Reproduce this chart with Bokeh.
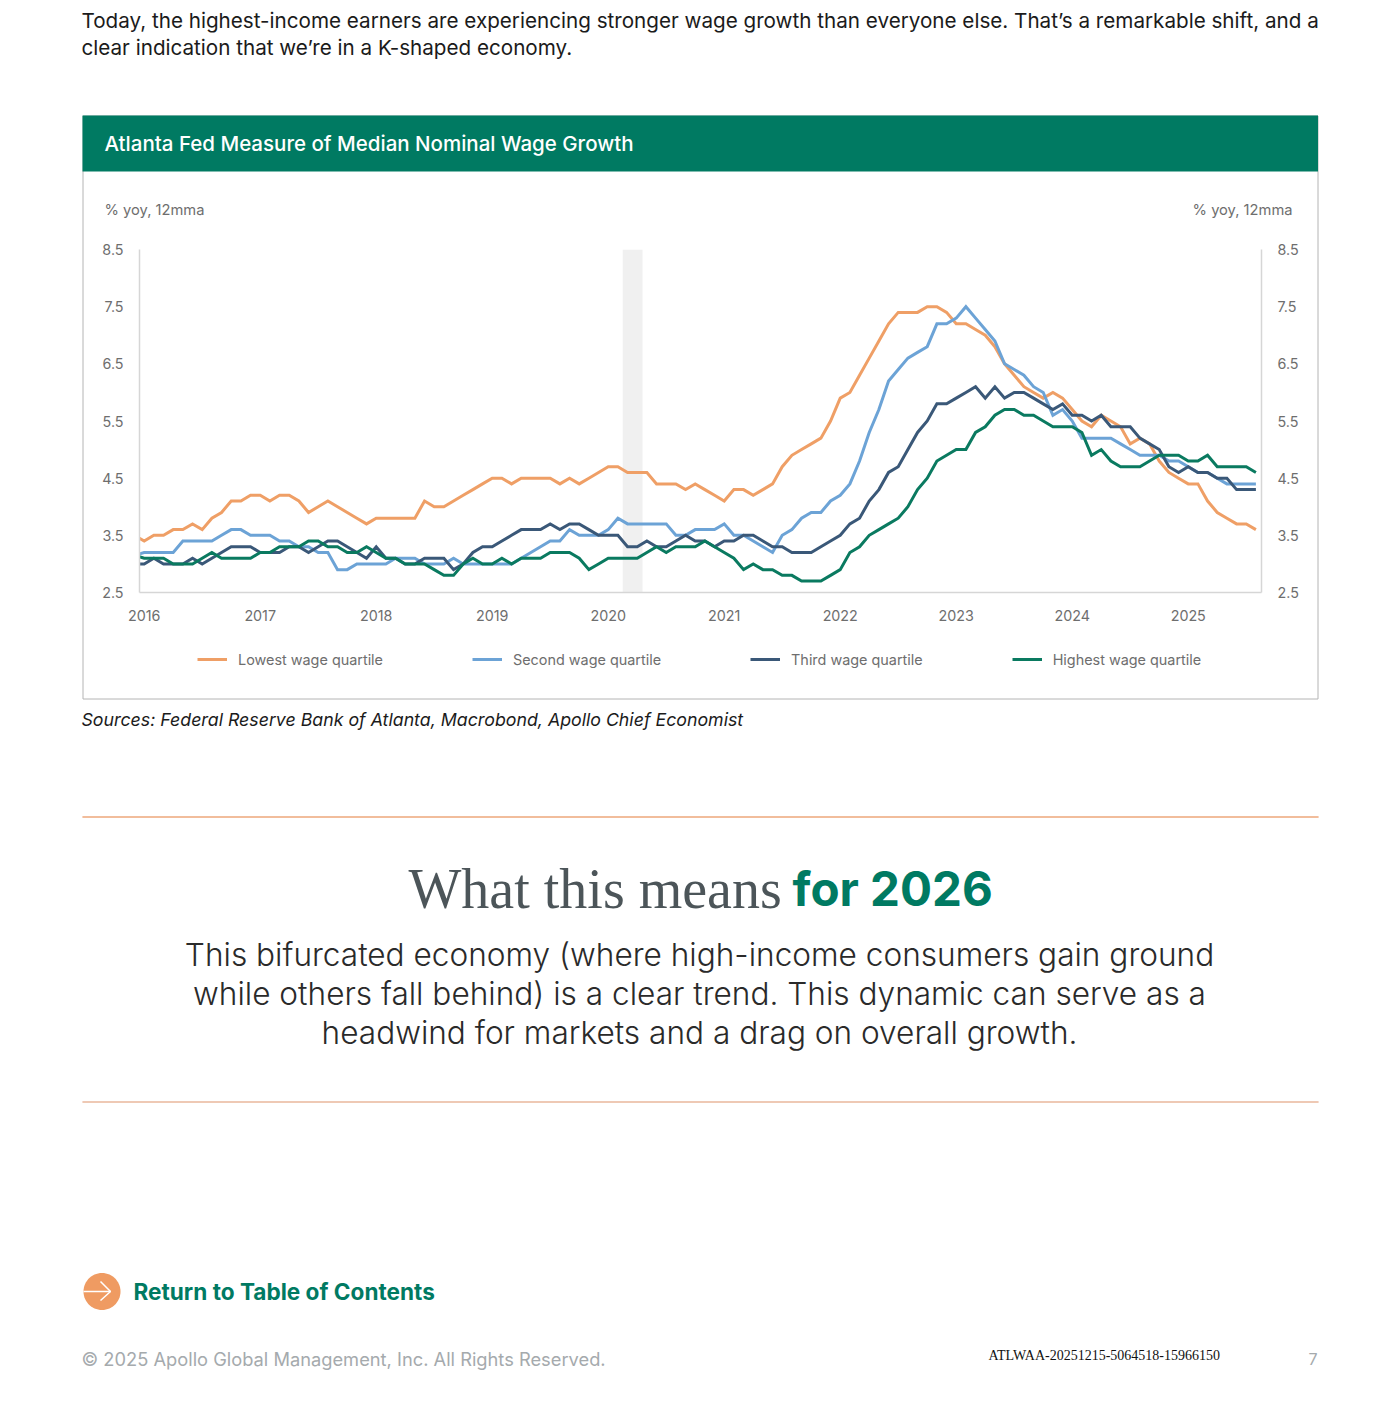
from bokeh.plotting import figure
from bokeh.models import Range1d, Label, BoxAnnotation, LinearAxis, FixedTicker, Legend, LegendItem
from bokeh.embed import file_html
from bokeh.resources import INLINE
import math

W, H = 1400, 1401
FL, FR, FT, FB = 139, 1261, 249, 592

year_labels = ["2016","2017","2018","2019","2020","2021","2022","2023","2024","2025"]
y_ticks = [2.5,3.5,4.5,5.5,6.5,7.5,8.5]
months = list(range(-1,116))
recession = (49.5, 51.55)
lowest = [3.5,3.4,3.5,3.5,3.6,3.6,3.7,3.6,3.8,3.9,4.1,4.1,4.2,4.2,4.1,4.2,4.2,4.1,3.9,4.0,4.1,4.0,3.9,3.8,3.7,3.8,3.8,3.8,3.8,3.8,4.1,4.0,4.0,4.1,4.2,4.3,4.4,4.5,4.5,4.4,4.5,4.5,4.5,4.5,4.4,4.5,4.4,4.5,4.6,4.7,4.7,4.6,4.6,4.6,4.4,4.4,4.4,4.3,4.4,4.3,4.2,4.1,4.3,4.3,4.2,4.3,4.4,4.7,4.9,5.0,5.1,5.2,5.5,5.9,6.0,6.3,6.6,6.9,7.2,7.4,7.4,7.4,7.5,7.5,7.4,7.2,7.2,7.1,7.0,6.8,6.5,6.3,6.1,6.0,5.9,6.0,5.9,5.7,5.5,5.4,5.6,5.5,5.4,5.1,5.2,5.1,4.8,4.6,4.5,4.4,4.4,4.1,3.9,3.8,3.7,3.7,3.6]
second = [3.15,3.2,3.2,3.2,3.2,3.4,3.4,3.4,3.4,3.5,3.6,3.6,3.5,3.5,3.5,3.4,3.4,3.3,3.3,3.2,3.2,2.9,2.9,3.0,3.0,3.0,3.0,3.1,3.1,3.1,3.0,3.0,3.0,3.1,3.0,3.0,3.0,3.0,3.0,3.0,3.1,3.2,3.3,3.4,3.4,3.6,3.5,3.5,3.5,3.6,3.8,3.7,3.7,3.7,3.7,3.7,3.5,3.5,3.6,3.6,3.6,3.7,3.5,3.5,3.4,3.3,3.2,3.5,3.6,3.8,3.9,3.9,4.1,4.2,4.4,4.8,5.3,5.7,6.2,6.4,6.6,6.7,6.8,7.2,7.2,7.3,7.5,7.3,7.1,6.9,6.5,6.4,6.3,6.1,6.0,5.6,5.7,5.5,5.2,5.2,5.2,5.2,5.1,5.0,4.9,4.9,4.9,4.8,4.8,4.7,4.6,4.6,4.5,4.4,4.4,4.4,4.4]
third = [3.0,3.0,3.1,3.0,3.0,3.0,3.1,3.0,3.1,3.2,3.3,3.3,3.3,3.2,3.2,3.2,3.3,3.3,3.2,3.3,3.4,3.4,3.3,3.2,3.1,3.3,3.1,3.1,3.0,3.0,3.1,3.1,3.1,2.9,3.0,3.2,3.3,3.3,3.4,3.5,3.6,3.6,3.6,3.7,3.6,3.7,3.7,3.6,3.5,3.5,3.5,3.3,3.3,3.4,3.3,3.3,3.4,3.5,3.4,3.4,3.3,3.4,3.4,3.5,3.5,3.4,3.3,3.3,3.2,3.2,3.2,3.3,3.4,3.5,3.7,3.8,4.1,4.3,4.6,4.7,5.0,5.3,5.5,5.8,5.8,5.9,6.0,6.1,5.9,6.1,5.9,6.0,6.0,5.9,5.8,5.7,5.8,5.6,5.6,5.5,5.6,5.4,5.4,5.4,5.2,5.1,5.0,4.7,4.6,4.7,4.6,4.6,4.5,4.5,4.3,4.3,4.3]
highest = [3.15,3.1,3.1,3.1,3.0,3.0,3.0,3.1,3.2,3.1,3.1,3.1,3.1,3.2,3.2,3.3,3.3,3.3,3.4,3.4,3.3,3.3,3.2,3.2,3.3,3.2,3.1,3.1,3.0,3.0,3.0,2.9,2.8,2.8,3.0,3.1,3.0,3.0,3.1,3.0,3.1,3.1,3.1,3.2,3.2,3.2,3.1,2.9,3.0,3.1,3.1,3.1,3.1,3.2,3.3,3.2,3.3,3.3,3.3,3.4,3.3,3.2,3.1,2.9,3.0,2.9,2.9,2.8,2.8,2.7,2.7,2.7,2.8,2.9,3.2,3.3,3.5,3.6,3.7,3.8,4.0,4.3,4.5,4.8,4.9,5.0,5.0,5.3,5.4,5.6,5.7,5.7,5.6,5.6,5.5,5.4,5.4,5.4,5.3,4.9,5.0,4.8,4.7,4.7,4.7,4.8,4.9,4.9,4.9,4.8,4.8,4.9,4.7,4.7,4.7,4.7,4.6]

names = ["Lowest wage quartile","Second wage quartile","Third wage quartile","Highest wage quartile"]
colors = ["#EF9F66","#6CA3D6","#3A5878","#0A7A60"]
series = [lowest, second, third, highest]

# page layer: data coordinates are page pixels
pg = figure(width=W, height=H, output_backend="svg", toolbar_location=None,
            x_range=Range1d(0,W), y_range=Range1d(H,0), min_border=0,
            outline_line_color=None, background_fill_color="white", x_axis_type=None, y_axis_type=None)
pg.xgrid.visible=False; pg.ygrid.visible=False

def txt(x,y,s,size,color,font="Inter",align="left",style="normal"):
    pg.add_layout(Label(x=x-1,y=y-1,text=s,text_font=font,text_font_size=f"{size}px",
        text_color=color,text_align=align,text_baseline="middle",text_font_style=style))
def box(l,r,t,b,fill=None,line=None):
    pg.add_layout(BoxAnnotation(left=l,right=r,top=t,bottom=b,fill_color=fill,fill_alpha=1 if fill else 0,
        line_color=line,line_alpha=1,line_width=1))

AXC="#d6d6d6"; TXT="#6e6e6e"
box(82.5,1317.5,115.5,698.5,None,"#b4b4b4")
box(82,1317.5,115,171,"#007A62",None)
box(82,1318,816.5,816.5,None,"#EDA77A")
box(82,1318,1101.5,1101.5,None,"#E9B79C")
BODY="#1b1b1b"
txt(82,21,"Today, the highest-income earners are experiencing stronger wage growth than everyone else. That’s a remarkable shift, and a",20.65,BODY)
txt(82,48,"clear indication that we’re in a K-shaped economy.",20.65,BODY)
txt(105,144,"Atlanta Fed Measure of Median Nominal Wage Growth",20.5,"white","Inter Medium, Inter")
txt(105,210,"% yoy, 12mma",14.7,TXT)
txt(1293,210,"% yoy, 12mma",14.7,TXT,align="right")
txt(82,720,"Sources: Federal Reserve Bank of Atlanta, Macrobond, Apollo Chief Economist",17.75,BODY,style="italic")
txt(409,889,"What this means",56,"#4c5559","Liberation Serif")
txt(793,889,"for 2026",47.5,"#007A62",style="bold")
for y,s in [(955,"This bifurcated economy (where high-income consumers gain ground"),
            (994,"while others fall behind) is a clear trend. This dynamic can serve as a"),
            (1033,"headwind for markets and a drag on overall growth.")]:
    txt(700,y,s,31.6,"#2a2a2a","Inter Light, Inter",align="center")
txt(134,1292,"Return to Table of Contents",22.6,"#007A62",style="bold")
txt(82,1359,"© 2025 Apollo Global Management, Inc. All Rights Reserved.",18.3,"#a5aaad")
txt(989,1356,"ATLWAA-20251215-5064518-15966150",14,"#111111","Liberation Serif")
txt(1318,1359,"7",16,"#a5aaad",align="right")

cx,cy,r=101.5,1291,18.5
ang=[2*math.pi*i/60 for i in range(60)]
pg.patch([cx+r*math.cos(a) for a in ang],[cy+r*math.sin(a) for a in ang],fill_color="#EF9B62",line_color=None)
pg.line([83,110],[1291,1291],line_color="white",line_width=1.5)
pg.line([100,110,100],[1281,1291,1300],line_color="white",line_width=1.5)

# legend keys live on the page layer, whose frame is the whole page
keys=[pg.line([-9,-9],[-9,-9],line_color=c,line_width=3) for c in colors]
leg = Legend(items=[LegendItem(label=n,renderers=[r]) for n,r in zip(names,keys)],
    orientation="horizontal", location=(197,H-669), spacing=89, glyph_width=30, glyph_height=20,
    label_standoff=11, padding=0, margin=0, border_line_color=None, background_fill_alpha=0,
    label_text_font="Inter", label_text_font_size="14.4px", label_text_color=TXT, label_height=20)
pg.add_layout(leg)

# chart layer, laid transparently over the page layer
step = 9.667
x0 = 143.7
CH = 700
p = figure(width=W, height=CH, output_backend="svg", toolbar_location=None,
           x_range=Range1d((FL-x0)/step,(FR-x0)/step), y_range=Range1d(2.5,8.5),
           min_border_left=FL, min_border_right=W-FR, min_border_top=FT, min_border_bottom=CH-FB,
           outline_line_color=None, background_fill_color=None, border_fill_color=None,
           x_axis_type=None, y_axis_type=None, margin=(-H,0,0,0))
p.xgrid.visible=False; p.ygrid.visible=False

bot = LinearAxis(ticker=FixedTicker(ticks=[12*i for i in range(10)]),
    major_label_overrides={12*i:s for i,s in enumerate(year_labels)})
left = LinearAxis(ticker=FixedTicker(ticks=y_ticks), major_label_overrides={t:str(t) for t in y_ticks})
right = LinearAxis(ticker=FixedTicker(ticks=y_ticks), major_label_overrides={t:str(t) for t in y_ticks})
for a,st in ((bot,17),(left,16),(right,16)):
    a.axis_line_color=AXC; a.axis_line_width=1.5
    a.major_tick_line_color=None; a.minor_tick_line_color=None
    a.major_tick_out=0; a.major_tick_in=0
    a.major_label_text_color=TXT; a.major_label_text_font="Inter"; a.major_label_text_font_size="14.3px"
    a.major_label_standoff=st
p.add_layout(bot,"below"); p.add_layout(left,"left"); p.add_layout(right,"right")

p.add_layout(BoxAnnotation(left=recession[0],right=recession[1],fill_color="#f0f0f0",fill_alpha=1,line_color=None,level="underlay"))
for n,c,s in zip(names,colors,series):
    p.line(months,s,line_color=c,line_width=3,line_join="miter")

open("out.html","w").write(file_html([pg,p],INLINE))
